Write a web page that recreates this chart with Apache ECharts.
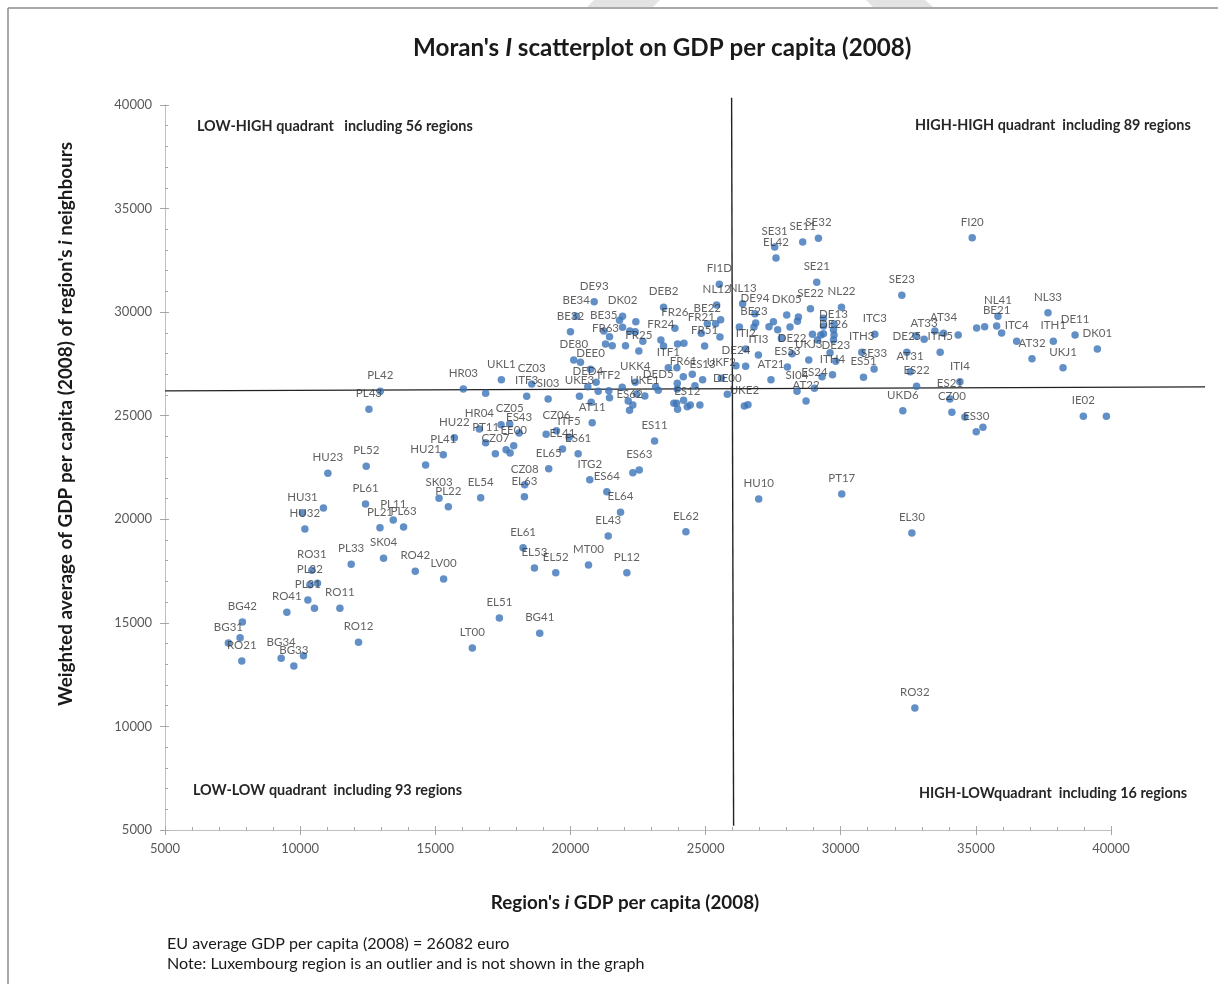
<!DOCTYPE html>
<html>
<head>
<meta charset="utf-8">
<style>html,body{margin:0;padding:0;background:#fff}#c{width:1218px;height:984px}</style>
<script src="https://cdn.jsdelivr.net/npm/echarts@6/dist/echarts.min.js"></script>
</head>
<body>
<div id="c"></div>
<script>
// Regions that carry a label in the reference
const regionNames = ["PL42","PL43","PL52","HU23","HU21","PL41","PL61","HU31","HU32","PL11","PL21","PL63","SK03","PL22","PL33","SK04","RO42","LV00","RO31","PL32","PL31","RO11","RO41","BG42","BG31","RO21","BG34","BG33","RO12",
"EL54","EL63","CZ08","EL65","ITG2","ES64","EL64","ES63","EL43","EL62","EL61","EL53","EL52","MT00","PL12","EL51","BG41","LT00","PT11","CZ07","EE00","EL41","ES61","ES11",
"HR03","UKL1","ITF3","CZ03","SI03","UKE3","DED4","ITF2","DEE0","DE80","BE32","BE34","DE93","BE35","FR63","DK02","FR25","FR24","DEB2","FR26","ITF1","FR61","UKK4","DED5","UKE1","ES13","ES12","ES62","AT11","HR04","HU22","CZ05","ES43","CZ06","ITF5",
"FI1D","NL12","NL13","DE94","BE22","FR21","FR51","BE23","ITI2","ITI3","DE24","UKF2","DE00","UKE2","AT21","SI04","AT22","ES24","UKJ3","ES53","DE22","DK05","SE22","SE21","NL22","DE13","DE26","DE23","ITH4","ITH3","ITC3","SE33","ES51","SE23","SE31","EL42","SE11","SE32",
"FI20","NL41","BE21","NL33","ITC4","ITH1","DE11","DK01","AT32","UKJ1","IE02","AT34","AT33","DE25","AT31","ES22","ITH5","ITI4","ES21","CZ00","ES30","UKD6","HU10","PT17","EL30","RO32"];
const regionGdp = [12964,12545,12445,11026,14642,15297,12419,10086,10175,13445,12953,13827,15138,15482,11889,13086,14260,15308,10434,10360,10286,11471,9508,7863,7345,7841,9297,9767,12160,
16679,18297,18309,19197,20716,21346,21853,22546,21398,24272,18249,18668,19457,20668,22087,17371,18864,16371,16864,17223,17901,19705,20286,23113,
16038,17445,18382,18568,19175,20335,20642,21420,20742,20123,20001,20212,20879,21235,21298,21927,22531,23346,23446,23865,23620,24176,22398,23250,22753,24890,24324,22187,20805,16631,15705,17753,18101,19483,19953,
25509,25409,26372,26828,25065,24842,24965,26791,26483,26954,26124,25583,25805,26435,27420,28383,28717,29028,28817,28028,28198,28002,28880,29113,30028,29732,29732,29817,29695,30780,31262,31235,30843,32261,27557,27606,28594,29176,
34865,35817,35769,37669,36510,37866,38670,39495,37077,38225,38977,33806,33087,32447,32569,32806,33680,34410,34039,34113,35014,32298,26965,30039,32632,32743];
const regionNeighbours = [26180,25311,22559,22221,22622,23119,20739,20319,19532,19967,19595,19629,21015,20609,17828,18118,17490,17118,17538,16843,16104,15704,15511,15042,14028,13159,13290,12918,14062,
21043,21092,21671,22444,21913,21333,20339,22381,19194,19402,18629,17649,17422,17794,17422,15235,14497,13787,23699,23168,23554,23395,23168,23781,
26291,26740,25939,26533,25809,25939,26403,26209,27243,27692,29058,29801,30506,29092,28464,29801,28126,28657,30236,29222,27320,26885,26615,26229,25954,26740,25437,25263,24664,24360,23940,24602,24167,24278,23960,
31346,30347,30410,29927,29444,28981,28368,29285,28223,27933,27416,26808,26036,25471,26740,26180,25712,26325,27692,27354,27996,29864,30169,31443,30236,29155,28657,27629,26982,28063,28932,27257,26856,30815,33147,32616,33389,33567,
33596,29801,29333,29975,28594,28594,28899,28223,27754,27320,24973,28981,28691,28063,27127,26422,28063,26644,25809,25167,24230,25244,20981,21222,19339,10890];

// Regions drawn without a label in the reference
const otherGdp = [10863,10641,10530,7778,10123,22309,17619,17768,16864,20768,20953,21027,21446,20372,21816,21927,21446,21546,22038,22198,22398,22420,22679,23446,23964,24198,23938,24509,24605,23953,23953,23150,24435,24790,24187,23827,23927,23964,22309,22138,21916,22446,17434,19101,
25372,25557,25531,26854,26250,26483,26568,27509,27346,27668,28124,28435,28398,28954,29361,29361,29361,29754,29754,29261,29139,29606,27805,29309,
39829,35325,35028,35954,32780,33484,34347,35262,34595];
const otherNeighbours = [20546,16911,15704,14284,13415,22250,23361,23202,26084,25649,26615,26180,25872,27581,29608,29270,28817,28382,28382,29092,29058,29541,28594,28368,28464,28498,27320,27001,26451,26567,26291,26403,25519,25519,25746,25601,25601,25311,25519,25712,26373,26050,24568,24104,
29444,29637,28802,29478,29285,27388,25534,29541,29299,29155,29285,29768,29560,28932,29705,29333,28961,29430,28899,28899,28657,28044,28739,26885,
24973,29299,29237,28995,28865,29092,28899,24442,24940];

// Quadrant divider lines (x, y end points)
const meanVerticalX = [25963,26037];
const meanVerticalY = [40350,5200];
const meanHorizontalX = [5000,43500];
const meanHorizontalY = [26197,26390];

const xTicks = {min:5000,max:40000,step:5000};
const yTicks = {min:5000,max:40000,step:5000};

const FONT = 'Lato';
const TICK = '#595959';
const DOT = '#3b74b8';

function zip(a,b){return a.map((v,i)=>[v,b[i]]);}
function axisPair(t,pos,nameCfg,margin){
  const base = {type:'value',position:pos,min:t.min,max:t.max,interval:t.step,splitLine:{show:false}};
  return [
    Object.assign({},base,nameCfg,{
      axisLine:{show:true,lineStyle:{color:'#bfbfbf',width:1}},
      axisTick:{show:true,length:5,lineStyle:{color:'#a6a6a6'}},
      axisLabel:{color:TICK,fontFamily:FONT,fontSize:13,margin:margin,formatter:v=>String(v)},
      minorTick:{show:false}
    }),
    Object.assign({},base,{
      axisLine:{show:false},
      axisLabel:{show:false},
      axisTick:{show:true,inside:true,length:4,lineStyle:{color:'#a6a6a6'}},
      minorTick:{show:true,splitNumber:5,length:3,lineStyle:{color:'#a6a6a6'}}
    })
  ];
}
const quadrantText = [
  {text:'LOW-HIGH quadrant   including 56 regions',x:197,y:126},
  {text:'HIGH-HIGH quadrant  including 89 regions',x:915,y:125},
  {text:'LOW-LOW quadrant  including 93 regions',x:193,y:790},
  {text:'HIGH-LOWquadrant  including 16 regions',x:919,y:793}
];
const noteText = [
  {text:'EU average GDP per capita (2008) = 26082 euro',x:167,y:944},
  {text:'Note: Luxembourg region is an outlier and is not shown in the graph',x:167,y:964}
];
const band = {fill:'#e3e3e3'};
const frame = {stroke:'#8c8c8c',lineWidth:1.5};
const graphics = [
  {type:'polygon',silent:true,z:-1,shape:{points:[[594,0],[660,0],[653,7],[587,7]]},style:band},
  {type:'polygon',silent:true,z:-1,shape:{points:[[866,0],[925,0],[933,7],[873,7]]},style:band},
  {type:'line',silent:true,shape:{x1:8,y1:8,x2:1218,y2:8},style:frame},
  {type:'line',silent:true,shape:{x1:8,y1:8,x2:8,y2:984},style:frame}
].concat(quadrantText.map(q=>({type:'text',x:q.x,y:q.y,style:{text:q.text,fontFamily:FONT,fontWeight:'bold',fontSize:14.4,fill:'#262626',verticalAlign:'middle'}})))
 .concat(noteText.map(q=>({type:'text',x:q.x,y:q.y,style:{text:q.text,fontFamily:FONT,fontSize:16.1,fill:'#1a1a1a',verticalAlign:'middle'}})));

const titleRich = size => ({
  b:{fontFamily:FONT,fontWeight:'bold',fontSize:size,color:'#1a1a1a'},
  i:{fontFamily:FONT,fontWeight:'bold',fontStyle:'italic',fontSize:size,color:'#1a1a1a'}
});
const [xMain,xInner] = axisPair(xTicks,'bottom',{
  name:"{b|Region's }{i|i}{b| GDP per capita (2008)}",nameLocation:'middle',nameGap:63,
  nameTextStyle:{padding:[0,26,0,0],rich:titleRich(18.8)}
},12);
const [yMain,yInner] = axisPair(yTicks,'left',{
  name:"{b|Weighted average of GDP per capita (2008) of region's }{i|i}{b| neighbours}",nameLocation:'middle',nameGap:90,
  nameTextStyle:{padding:[0,0,0,87],rich:titleRich(18.9)}
},13);

const chart = echarts.init(document.getElementById('c'),null,{renderer:'canvas'});
chart.setOption({
  backgroundColor:'#ffffff',
  animation:false,
  title:{
    text:"{b|Moran's }{i|I}{b| scatterplot on GDP per capita (2008)}",
    left:408,top:31,
    textStyle:{rich:titleRich(24.2)}
  },
  grid:[
    {left:165,right:107,top:105,bottom:154},
    {left:165,right:13,top:105,bottom:154}
  ],
  xAxis:[xMain,xInner,{type:'value',gridIndex:1,show:false,min:meanHorizontalX[0],max:meanHorizontalX[1]}],
  yAxis:[yMain,yInner,{type:'value',gridIndex:1,show:false,min:yTicks.min,max:yTicks.max}],
  graphic:graphics,
  series:[
    {type:'line',name:'mean x',data:zip(meanVerticalX,meanVerticalY),showSymbol:false,clip:false,silent:true,z:3,lineStyle:{color:'#222',width:1.4}},
    {type:'line',name:'mean y',xAxisIndex:2,yAxisIndex:2,data:zip(meanHorizontalX,meanHorizontalY),showSymbol:false,clip:false,silent:true,z:3,lineStyle:{color:'#222',width:1.4}},
    {type:'scatter',name:'regions',symbolSize:7.5,itemStyle:{color:DOT},z:4,
      data:regionNames.map((n,i)=>({name:n,value:[regionGdp[i],regionNeighbours[i]]})),
      label:{show:true,position:'top',distance:6,formatter:'{b}',fontFamily:FONT,fontSize:11.5,color:'#3a3a3a'}},
    {type:'scatter',name:'unlabelled regions',symbolSize:7.5,itemStyle:{color:DOT},z:4,data:zip(otherGdp,otherNeighbours)}
  ]
});
</script>
</body>
</html>
